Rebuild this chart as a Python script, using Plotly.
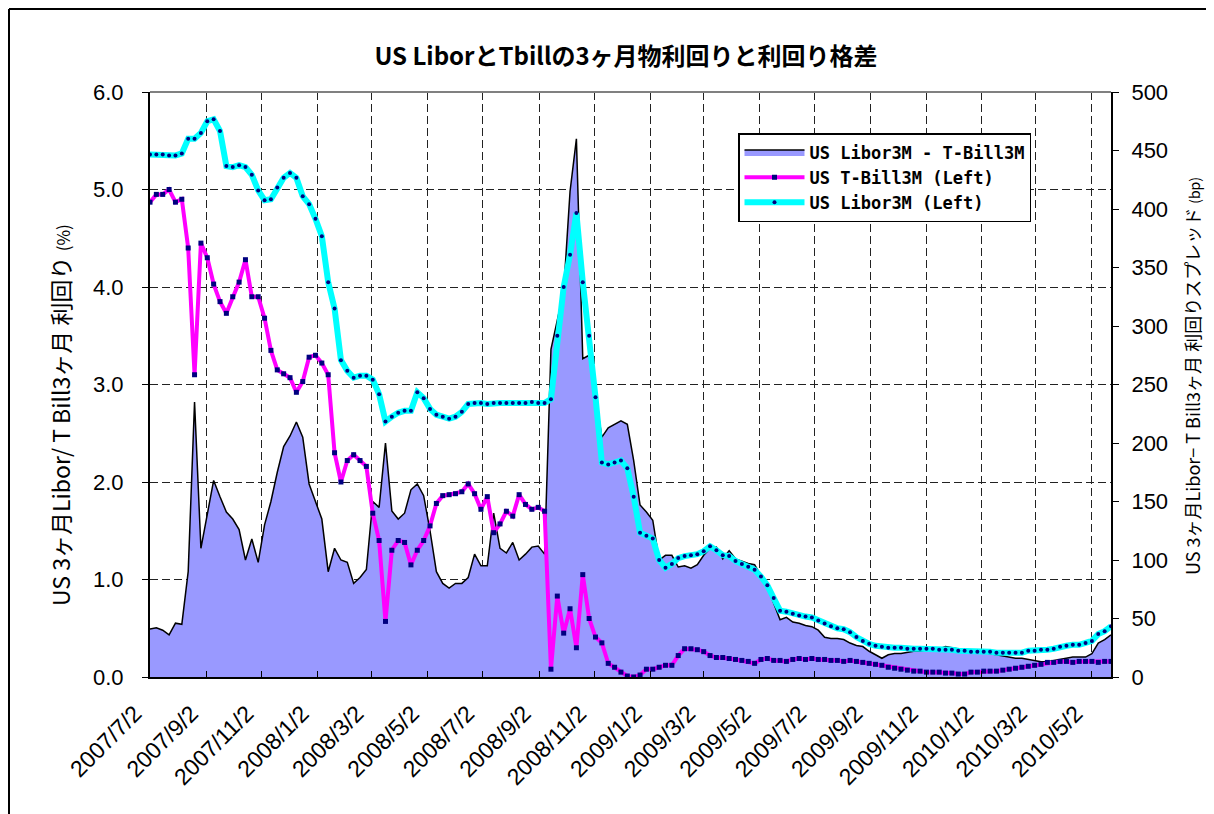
import pandas as pd
import plotly.graph_objects as go

# ---------------- data (weekly observations) ----------------
start_date = "2007-07-02"
n_weeks = 152
dates = pd.date_range(start_date, periods=n_weeks, freq="7D")

libor_3m = [
    5.36, 5.36, 5.36, 5.35, 5.35, 5.37, 5.52, 5.52, 5.58, 5.70,
    5.72, 5.60, 5.24, 5.23, 5.25, 5.23, 5.15, 4.99, 4.89, 4.90,
    5.02, 5.12, 5.17, 5.12, 4.93, 4.85, 4.70, 4.52, 4.05, 3.78,
    3.25, 3.14, 3.07, 3.09, 3.09, 3.05, 2.90, 2.62, 2.67, 2.71,
    2.73, 2.73, 2.92, 2.86, 2.75, 2.69, 2.67, 2.65, 2.67, 2.72,
    2.80, 2.81, 2.81, 2.80, 2.81, 2.81, 2.81, 2.81, 2.81, 2.81,
    2.82, 2.81, 2.81, 2.85, 3.50, 4.00, 4.33, 4.76, 4.05, 3.50,
    2.87, 2.20, 2.18, 2.20, 2.22, 2.14, 1.85, 1.48, 1.45, 1.42,
    1.20, 1.12, 1.16, 1.22, 1.24, 1.25, 1.26, 1.29, 1.34, 1.30,
    1.25, 1.24, 1.19, 1.16, 1.13, 1.10, 1.03, 0.94, 0.81, 0.68,
    0.67, 0.65, 0.63, 0.62, 0.61, 0.58, 0.55, 0.52, 0.50, 0.49,
    0.46, 0.41, 0.37, 0.34, 0.32, 0.31, 0.30, 0.30, 0.30, 0.29,
    0.29, 0.29, 0.29, 0.29, 0.28, 0.28, 0.28, 0.27, 0.27, 0.26,
    0.26, 0.26, 0.26, 0.25, 0.25, 0.25, 0.25, 0.25, 0.27, 0.27,
    0.28, 0.28, 0.29, 0.31, 0.32, 0.33, 0.33, 0.35, 0.37, 0.44,
    0.47, 0.52,
]

tbill_3m = [
    4.87, 4.95, 4.95, 5.00, 4.87, 4.90, 4.40, 3.10, 4.45, 4.30,
    4.03, 3.85, 3.73, 3.90, 4.05, 4.28, 3.90, 3.90, 3.68, 3.35,
    3.15, 3.11, 3.07, 2.92, 3.03, 3.28, 3.30, 3.22, 3.10, 2.30,
    2.00, 2.22, 2.28, 2.22, 2.16, 1.68, 1.40, 0.57, 1.30, 1.40,
    1.38, 1.15, 1.30, 1.40, 1.55, 1.78, 1.86, 1.87, 1.88, 1.90,
    1.98, 1.88, 1.72, 1.85, 1.48, 1.57, 1.70, 1.65, 1.87, 1.77,
    1.72, 1.74, 1.70, 0.08, 0.83, 0.45, 0.70, 0.30, 1.05, 0.60,
    0.41, 0.35, 0.14, 0.10, 0.05, 0.01, 0.00, 0.02, 0.08, 0.08,
    0.10, 0.12, 0.12, 0.22, 0.29, 0.29, 0.28, 0.26, 0.22, 0.20,
    0.20, 0.19, 0.18, 0.17, 0.16, 0.14, 0.18, 0.19, 0.17, 0.17,
    0.16, 0.18, 0.19, 0.18, 0.19, 0.18, 0.18, 0.17, 0.17, 0.16,
    0.17, 0.16, 0.15, 0.14, 0.13, 0.12, 0.10, 0.09, 0.08, 0.07,
    0.06, 0.06, 0.05, 0.05, 0.05, 0.04, 0.04, 0.03, 0.03, 0.05,
    0.05, 0.06, 0.06, 0.06, 0.07, 0.08, 0.09, 0.10, 0.11, 0.12,
    0.13, 0.15, 0.15, 0.16, 0.16, 0.15, 0.16, 0.16, 0.16, 0.15,
    0.16, 0.16,
]

spread_bp = [
    41, 42, 40, 36, 46, 45, 90, 235, 110, 140,
    168, 154, 141, 135, 126, 100, 118, 98, 130, 150,
    175, 197, 206, 218, 205, 165, 150, 135, 90, 110,
    100, 98, 80, 85, 92, 150, 145, 200, 142, 135,
    140, 160, 165, 155, 125, 90, 80, 76, 80, 80,
    85, 105, 95, 95, 140, 110, 106, 115, 100, 105,
    111, 112, 105, 280, 305, 330, 415, 460, 272, 275,
    240, 205, 213, 216, 219, 216, 185, 147, 141, 134,
    100, 104, 104, 94, 95, 93, 96, 104, 110, 111,
    101, 108, 101, 99, 97, 96, 86, 77, 63, 49,
    51, 47, 46, 44, 43, 40, 34, 33, 33, 32,
    29, 27, 26, 22, 19, 16, 19, 20, 20, 21,
    22, 22, 23, 23, 24, 26, 25, 24, 23, 22,
    21, 21, 20, 19, 18, 17, 16, 16, 15, 14,
    13, 13, 14, 15, 16, 17, 17, 17, 20, 29,
    32, 36,
]

tick_dates = [
    "2007-07-02", "2007-09-02", "2007-11-02", "2008-01-02", "2008-03-02",
    "2008-05-02", "2008-07-02", "2008-09-02", "2008-11-02", "2009-01-02",
    "2009-03-02", "2009-05-02", "2009-07-02", "2009-09-02", "2009-11-02",
    "2010-01-02", "2010-03-02", "2010-05-02",
]
tick_text = [
    "2007/7/2", "2007/9/2", "2007/11/2", "2008/1/2", "2008/3/2",
    "2008/5/2", "2008/7/2", "2008/9/2", "2008/11/2", "2009/1/2",
    "2009/3/2", "2009/5/2", "2009/7/2", "2009/9/2", "2009/11/2",
    "2010/1/2", "2010/3/2", "2010/5/2",
]

series_names = ["US Libor3M - T-Bill3M", "US T-Bill3M (Left)", "US Libor3M (Left)"]

# ---------------- figure ----------------
JP = "Noto Sans CJK JP"
LAT = "Liberation Sans, Arial, sans-serif"
MONO = "DejaVu Sans Mono, Liberation Mono, monospace"
OFF = 8                       # page offset of the plot div (body margin)
W, H = 1214 - OFF, 814 - OFF
ML, MT = 150 - OFF, 92 - OFF   # plot area: page x 150..1111, y 92..677
MR = W - (1111 - OFF)
MB = H - (677 - OFF)
PW, PH = W - ML - MR, H - MT - MB


def px_x(px):   # page pixel -> paper x
    return (px - OFF - ML) / PW


def px_y(py):   # page pixel -> paper y
    return (H - MB - (py - OFF)) / PH


fig = go.Figure()

fig.add_trace(go.Scatter(
    x=dates, y=spread_bp, name=series_names[0], mode="lines",
    fill="tozeroy", fillcolor="#9999FF",
    line=dict(color="black", width=1.5), yaxis="y",
))
fig.add_trace(go.Scatter(
    x=dates, y=tbill_3m, name=series_names[1], mode="lines+markers",
    line=dict(color="#FF00FF", width=4),
    marker=dict(symbol="square", size=5, color="#000080"), yaxis="y2",
))
fig.add_trace(go.Scatter(
    x=dates, y=libor_3m, name=series_names[2], mode="lines+markers",
    line=dict(color="#00FFFF", width=6),
    marker=dict(symbol="circle", size=4, color="#000080"), yaxis="y2",
))

fig.update_layout(
    width=W, height=H,
    margin=dict(l=ML, r=MR, t=MT, b=MB, autoexpand=False),
    paper_bgcolor="white", plot_bgcolor="white",
    showlegend=True,
    title=dict(
        text="US LiborとTbillの3ヶ月物利回りと利回り格差",
        x=(626 - OFF) / W, xref="container", xanchor="center",
        y=1 - (57 - OFF) / H, yref="container", yanchor="middle",
        font=dict(family=JP, size=24, color="black", weight="bold"),
    ),
    xaxis=dict(
        type="date",
        range=[dates[0], dates[-1]],
        tickmode="array", tickvals=tick_dates, ticktext=tick_text,
        tickangle=-45,
        tickfont=dict(family=LAT, size=23, color="black"),
        ticks="inside", ticklen=6, tickcolor="black",
        ticklabelstandoff=12, ticklabelshift=-15,
        showline=True, linecolor="black", linewidth=2,
        showgrid=True, gridcolor="#222222", gridwidth=1, griddash="8px,4px",
        zeroline=False, automargin=False,
    ),
    yaxis=dict(
        side="right", range=[0, 500], dtick=50, tick0=0,
        tickfont=dict(family=LAT, size=22, color="black"),
        ticks="outside", ticklen=6, tickcolor="black",
        ticklabelstandoff=8,
        showline=True, linecolor="black", linewidth=2,
        showgrid=False, zeroline=False, automargin=False,
    ),
    yaxis2=dict(
        side="left", overlaying="y", range=[0, 6], dtick=1, tick0=0,
        tickformat=".1f",
        tickfont=dict(family=LAT, size=22, color="black"),
        ticks="outside", ticklen=6, tickcolor="black",
        ticklabelstandoff=14,
        showline=True, linecolor="black", linewidth=2,
        showgrid=True, gridcolor="#222222", gridwidth=1, griddash="8px,4px",
        zeroline=False, automargin=False,
    ),
    legend=dict(
        x=px_x(738), y=px_y(133), xanchor="left", yanchor="top",
        bgcolor="white", bordercolor="black", borderwidth=1.5,
        font=dict(family=MONO, size=17, color="black", weight="bold"),
        tracegroupgap=0, itemwidth=60,
    ),
)

# axis titles as rotated annotations
fig.add_annotation(
    text="US 3ヶ月Libor/ T Bill3ヶ月 利回り <span style='font-size:17px'>(%)</span>",
    x=px_x(60), y=px_y(415), xref="paper", yref="paper",
    textangle=-90, showarrow=False, xanchor="center", yanchor="middle",
    font=dict(family=JP, size=23, color="black"),
)
fig.add_annotation(
    text="US 3ヶ月Libor− T Bill3ヶ月 利回りスプレッド <span style='font-size:14px'>(bp)</span>",
    x=px_x(1192), y=px_y(376), xref="paper", yref="paper",
    textangle=-90, showarrow=False, xanchor="center", yanchor="middle",
    font=dict(family=JP, size=18, color="black"),
)

# plot-area top border (gray) and outer chart frame
fig.add_shape(type="line", xref="paper", yref="paper", x0=0, x1=1, y0=1, y1=1,
              line=dict(color="#808080", width=2))
fig.add_shape(type="line", xref="paper", yref="paper",
              x0=px_x(9), x1=px_x(9), y0=px_y(9), y1=px_y(830),
              line=dict(color="black", width=2))
fig.add_shape(type="line", xref="paper", yref="paper",
              x0=px_x(9), x1=px_x(1230), y0=px_y(9), y1=px_y(9),
              line=dict(color="black", width=2))

fig.write_html("out.html")
